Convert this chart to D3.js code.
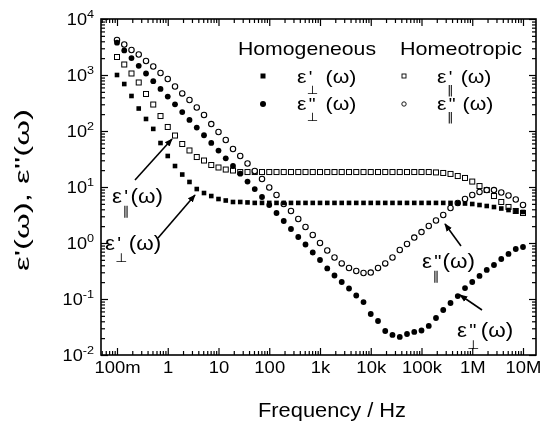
<!DOCTYPE html>
<html>
<head>
<meta charset="utf-8">
<script src="https://cdn.jsdelivr.net/npm/d3@7"></script>
<style>
  body { margin: 0; background: #fff; }
  svg { filter: grayscale(100%); }
  text { fill: #000; }
</style>
</head>
<body>
<script>
// measured frequencies (7 points per decade, 100 mHz .. 10 MHz)
var freq = [0.1, 0.139, 0.193, 0.268, 0.373, 0.518, 0.72,
  1, 1.39, 1.93, 2.68, 3.73, 5.18, 7.2,
  10, 13.9, 19.3, 26.8, 37.3, 51.8, 72,
  100, 139, 193, 268, 373, 518, 720,
  1e3, 1.39e3, 1.93e3, 2.68e3, 3.73e3, 5.18e3, 7.2e3,
  1e4, 1.39e4, 1.93e4, 2.68e4, 3.73e4, 5.18e4, 7.2e4,
  1e5, 1.39e5, 1.93e5, 2.68e5, 3.73e5, 5.18e5, 7.2e5,
  1e6, 1.39e6, 1.93e6, 2.68e6, 3.73e6, 5.18e6, 7.2e6,
  1e7];

// homogeneous, eps_perp' (filled squares)
var epsPerpReal = [1000, 690, 422, 252, 164, 109, 61,
  35.8, 23.7, 16.7, 12.3, 9.2, 7.81, 6.9,
  6.1, 5.74, 5.4, 5.4, 5.3, 5.2, 5.2,
  5.2, 5.2, 5.2, 5.2, 5.2, 5.2, 5.2,
  5.2, 5.2, 5.2, 5.2, 5.2, 5.2, 5.2,
  5.2, 5.2, 5.2, 5.2, 5.2, 5.2, 5.2,
  5.2, 5.2, 5.2, 5.2, 5.2, 5.15, 5.07,
  4.97, 4.77, 4.58, 4.39, 4.13, 3.88, 3.73,
  3.58];

// homeotropic, eps_par' (open squares)
var epsParReal = [2096, 1540, 1064, 735, 458, 297, 185,
  118, 83, 58.6, 44.9, 34.3, 29.7, 24.7,
  22.3, 20.5, 19.7, 18.5, 18.5, 18.5, 18.5,
  18.5, 18.5, 18.5, 18.5, 18.5, 18.5, 18.5,
  18.5, 18.5, 18.5, 18.5, 18.5, 18.5, 18.5,
  18.5, 18.5, 18.5, 18.5, 18.5, 18.5, 18.5,
  18.5, 18.5, 18.2, 17.8, 17.1, 15.7, 14.5,
  12.5, 10.4, 8.83, 6.9, 5.4, 4.4, 3.73,
  3.43];

// homogeneous, eps_perp'' (filled circles)
var epsPerpImag = [3776, 2750, 2003, 1460, 1064, 775, 565,
  411, 300, 218, 158, 115, 84, 61.3,
  44.7, 32.5, 23.7, 17.3, 12.5, 9.2, 6.63,
  4.77, 3.43, 2.47, 1.78, 1.28, 0.94, 0.676,
  0.497, 0.351, 0.263, 0.201, 0.154, 0.1155, 0.0883,
  0.054, 0.0405, 0.0268, 0.0228, 0.021, 0.0237, 0.0258,
  0.0274, 0.033, 0.0458, 0.0636, 0.0849, 0.113, 0.157,
  0.201, 0.258, 0.33, 0.405, 0.518, 0.637, 0.781,
  0.849];

// homeotropic, eps_par'' (open circles)
var epsParImag = [4217, 3505, 2795, 2323, 1778, 1418, 1086,
  849, 623, 468, 358, 263, 193, 133,
  96, 69, 47.7, 35.8, 26.3, 19.3, 13.9,
  9.8, 7.2, 4.97, 3.73, 2.68, 1.93, 1.39,
  1.0, 0.734, 0.551, 0.431, 0.358, 0.316, 0.291,
  0.297, 0.358, 0.431, 0.551, 0.75, 0.96, 1.25,
  1.57, 2.01, 2.52, 3.16, 4.22, 5.18, 6.1,
  7.2, 8.14, 8.83, 8.83, 7.98, 7.05, 5.98,
  4.77];

var xTickVals = [0.1, 1, 10, 100, 1e3, 1e4, 1e5, 1e6, 1e7];
var xTickLabels = ["100m", "1", "10", "100", "1k", "10k", "100k", "1M", "10M"];
var yTickExps = [-2, -1, 0, 1, 2, 3, 4];

var width = 541, height = 421;
var plotL = 101, plotR = 536, plotT = 19, plotB = 355;
var FONT = "'Liberation Sans', Arial, sans-serif";

var svg = d3.select("body").append("svg")
  .attr("width", width)
  .attr("height", height)
  .style("font-family", FONT);

// 100m sits at 117 px and 10M at 523 px; the frame runs a bit past both
var xBase = d3.scaleLog().domain([0.1, 1e7]).range([117, 523]);
var x = d3.scaleLog().domain([xBase.invert(plotL), xBase.invert(plotR)]).range([plotL, plotR]);
var y = d3.scaleLog().domain([1e-2, 1e4]).range([plotB, plotT]);

function minorVals(scale) {
  var dom = scale.domain(), out = [];
  for (var e = Math.floor(Math.log10(dom[0])); e <= Math.ceil(Math.log10(dom[1])); e++) {
    for (var m = 2; m <= 9; m++) {
      var v = m * Math.pow(10, e);
      if (v > dom[0] * 1.0001 && v < dom[1] * 0.9999) out.push(v);
    }
  }
  return out;
}

function noDomain(g) {
  g.select(".domain").remove();
  g.selectAll(".tick line").attr("stroke", "#000").attr("stroke-width", 1.2);
}

var yMajor = yTickExps.map(function(e) { return Math.pow(10, e); });
var blank = function() { return ""; };

// major + minor ticks on all four sides, pointing inward
var axes = svg.append("g");
var bottomAxis = axes.append("g").attr("transform", "translate(0," + plotB + ")")
  .call(d3.axisBottom(x).tickValues(xTickVals).tickSize(-7).tickPadding(6)
    .tickFormat(function(d, i) { return xTickLabels[i]; }))
  .call(noDomain);
axes.append("g").attr("transform", "translate(0," + plotB + ")")
  .call(d3.axisBottom(x).tickValues(minorVals(x)).tickSize(-4).tickFormat(blank)).call(noDomain);
axes.append("g").attr("transform", "translate(0," + plotT + ")")
  .call(d3.axisTop(x).tickValues(xTickVals).tickSize(-7).tickFormat(blank)).call(noDomain);
axes.append("g").attr("transform", "translate(0," + plotT + ")")
  .call(d3.axisTop(x).tickValues(minorVals(x)).tickSize(-4).tickFormat(blank)).call(noDomain);
axes.append("g").attr("transform", "translate(" + plotL + ",0)")
  .call(d3.axisLeft(y).tickValues(yMajor).tickSize(-7).tickFormat(blank)).call(noDomain);
axes.append("g").attr("transform", "translate(" + plotL + ",0)")
  .call(d3.axisLeft(y).tickValues(minorVals(y)).tickSize(-4).tickFormat(blank)).call(noDomain);
axes.append("g").attr("transform", "translate(" + plotR + ",0)")
  .call(d3.axisRight(y).tickValues(yMajor).tickSize(-7).tickFormat(blank)).call(noDomain);
axes.append("g").attr("transform", "translate(" + plotR + ",0)")
  .call(d3.axisRight(y).tickValues(minorVals(y)).tickSize(-4).tickFormat(blank)).call(noDomain);

bottomAxis.selectAll(".tick text")
  .attr("font-size", 16.5)
  .attr("font-family", FONT)
  .attr("fill", "#000")
  .attr("transform", "scale(1.12,1)");

// y tick labels, 10^n
yTickExps.forEach(function(e) {
  var t = svg.append("g")
    .attr("transform", "translate(94," + (y(Math.pow(10, e)) + 6) + ") scale(1.1,1)")
    .append("text").attr("text-anchor", "end").attr("font-size", 16.5);
  t.append("tspan").text("10");
  t.append("tspan").attr("font-size", 11.5).attr("dy", -7).text(e);
});

// frame
svg.append("rect")
  .attr("x", plotL).attr("y", plotT)
  .attr("width", plotR - plotL).attr("height", plotB - plotT)
  .attr("fill", "none").attr("stroke", "#000").attr("stroke-width", 1.6);

// data
function rows(vals) {
  return freq.map(function(f, i) { return { f: f, v: vals[i] }; });
}

var pts = svg.append("g");

pts.selectAll(".osq").data(rows(epsParReal)).enter().append("rect")
  .attr("class", "osq")
  .attr("x", function(d) { return x(d.f) - 2.5; })
  .attr("y", function(d) { return y(d.v) - 2.5; })
  .attr("width", 5).attr("height", 5)
  .attr("fill", "#fff").attr("stroke", "#000").attr("stroke-width", 1);

pts.selectAll(".ocir").data(rows(epsParImag)).enter().append("circle")
  .attr("class", "ocir")
  .attr("cx", function(d) { return x(d.f); })
  .attr("cy", function(d) { return y(d.v); })
  .attr("r", 2.7)
  .attr("fill", "#fff").attr("stroke", "#000").attr("stroke-width", 1.1);

pts.selectAll(".csq").data(rows(epsPerpReal)).enter().append("rect")
  .attr("class", "csq")
  .attr("x", function(d) { return x(d.f) - 2.3; })
  .attr("y", function(d) { return y(d.v) - 2.3; })
  .attr("width", 4.6).attr("height", 4.6)
  .attr("fill", "#000");

pts.selectAll(".ccir").data(rows(epsPerpImag)).enter().append("circle")
  .attr("class", "ccir")
  .attr("cx", function(d) { return x(d.f); })
  .attr("cy", function(d) { return y(d.v); })
  .attr("r", 2.9)
  .attr("fill", "#000");

// epsilon label in one text: base, subscript stacked under the prime, then tail
function epsLabel(x0, y0, sub, sup, tail, fs) {
  var t = svg.append("g").attr("transform", "translate(" + x0 + "," + y0 + ") scale(1.12,1)")
    .append("text").attr("font-size", fs);
  var e = t.append("tspan").attr("x", 0).attr("y", 0).text("ε");
  var w = e.node().getComputedTextLength();
  var sb = t.append("tspan").attr("x", w + 0.3).attr("y", fs * 0.58)
    .attr("font-size", fs * 0.62).attr("font-family", "'DejaVu Sans'").text(sub);
  var sp = t.append("tspan").attr("x", w + 2).attr("y", 0)
    .attr("font-size", fs * 0.9).text(sup);
  var w2 = Math.max(sb.node().getComputedTextLength(), sp.node().getComputedTextLength() + 1.5);
  t.append("tspan").attr("x", w + w2 + 1.5).attr("y", 0).text(tail);
}

// legend
var leg = svg.append("g");
leg.append("text").attr("x", 238).attr("y", 55).attr("font-size", 18.5)
  .attr("textLength", 138).attr("lengthAdjust", "spacingAndGlyphs").text("Homogeneous");
leg.append("text").attr("x", 400).attr("y", 55).attr("font-size", 18.5)
  .attr("textLength", 122).attr("lengthAdjust", "spacingAndGlyphs").text("Homeotropic");
leg.append("rect").attr("x", 260.5).attr("y", 73.5).attr("width", 5).attr("height", 5).attr("fill", "#000");
leg.append("circle").attr("cx", 263).attr("cy", 104).attr("r", 3).attr("fill", "#000");
leg.append("rect").attr("x", 402).attr("y", 74).attr("width", 4).attr("height", 4)
  .attr("fill", "#fff").attr("stroke", "#000").attr("stroke-width", 0.9);
leg.append("circle").attr("cx", 404).attr("cy", 104).attr("r", 2.2)
  .attr("fill", "#fff").attr("stroke", "#000").attr("stroke-width", 0.9);
epsLabel(297, 83, "⊥", "'", " (ω)", 19);
epsLabel(297, 110, "⊥", "\"", " (ω)", 19);
epsLabel(437, 83, "∥", "'", " (ω)", 19);
epsLabel(437, 110, "∥", "\"", " (ω)", 19);

// annotations with arrows
svg.append("defs").append("marker")
  .attr("id", "head")
  .attr("viewBox", "0 0 10 10")
  .attr("refX", 9).attr("refY", 5)
  .attr("markerWidth", 5).attr("markerHeight", 5)
  .attr("orient", "auto")
  .append("path").attr("d", "M0,1 L10,5 L0,9 Z").attr("fill", "#000");

var arrows = [[135, 180, 172, 139], [158, 238, 195, 195], [461, 246, 445, 224], [482, 310, 460, 295]];
svg.selectAll(".arrow").data(arrows).enter().append("line")
  .attr("class", "arrow")
  .attr("x1", function(d) { return d[0]; }).attr("y1", function(d) { return d[1]; })
  .attr("x2", function(d) { return d[2]; }).attr("y2", function(d) { return d[3]; })
  .attr("stroke", "#000").attr("stroke-width", 1.6)
  .attr("marker-end", "url(#head)");

epsLabel(112, 203, "∥", "'", "(ω)", 20);
epsLabel(105, 250, "⊥", "'", "(ω)", 20);
epsLabel(422, 268, "∥", "\"", "(ω)", 20);
epsLabel(457, 337, "⊥", "\"", "(ω)", 20);

// axis titles
svg.append("text")
  .attr("x", 332).attr("y", 417)
  .attr("text-anchor", "middle")
  .attr("font-size", 20.5)
  .attr("textLength", 148).attr("lengthAdjust", "spacingAndGlyphs")
  .text("Frequency / Hz");

svg.append("text")
  .attr("transform", "translate(29,190) rotate(-90)")
  .attr("text-anchor", "middle")
  .attr("font-size", 20)
  .attr("textLength", 162).attr("lengthAdjust", "spacingAndGlyphs")
  .text("ε'(ω), ε''(ω)");
</script>
</body>
</html>
